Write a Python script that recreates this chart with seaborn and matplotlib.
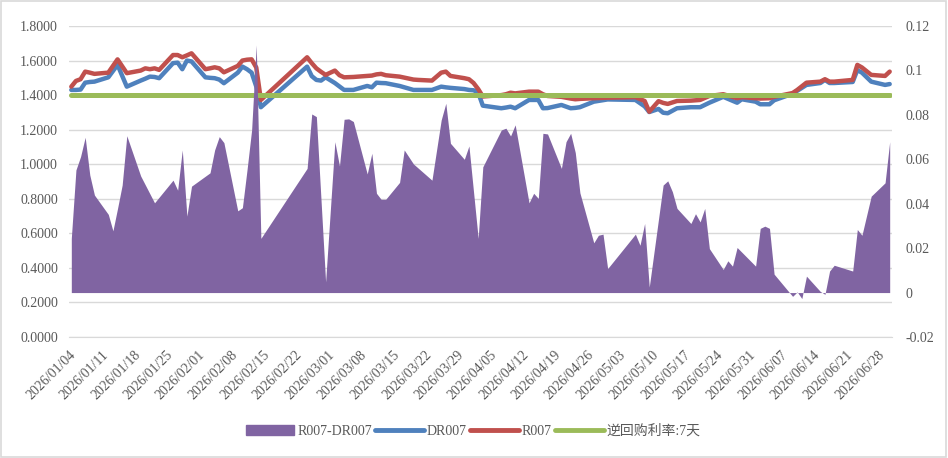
import seaborn as sns
import matplotlib.pyplot as plt
from matplotlib.patches import Patch, Rectangle
from matplotlib.lines import Line2D
import pandas as pd

# R007-DR007 (right axis)
spread_dates = ['01/04', '01/05', '01/06', '01/07', '01/08', '01/09', '01/12', '01/13', '01/14', '01/15',
                '01/16', '01/19', '01/22', '01/26', '01/27', '01/28', '01/29', '01/30', '02/03', '02/04',
                '02/05', '02/06', '02/09', '02/10', '02/11', '02/12', '02/13', '02/14', '02/24', '02/25',
                '02/26', '02/28', '03/02', '03/03', '03/04', '03/05', '03/06', '03/09', '03/10', '03/11',
                '03/12', '03/13', '03/16', '03/17', '03/19', '03/23', '03/25', '03/26', '03/27', '03/30',
                '03/31', '04/02', '04/03', '04/07', '04/08', '04/09', '04/10', '04/13', '04/14', '04/15',
                '04/16', '04/17', '04/20', '04/21', '04/22', '04/23', '04/24', '04/27', '04/28', '04/29',
                '04/30', '05/06', '05/07', '05/08', '05/09', '05/12', '05/13', '05/14', '05/15', '05/18',
                '05/19', '05/20', '05/21', '05/22', '05/25', '05/26', '05/27', '05/28', '06/01', '06/02',
                '06/03', '06/04', '06/05', '06/09', '06/10', '06/11', '06/12', '06/15', '06/16', '06/17',
                '06/18', '06/22', '06/23', '06/24', '06/26', '06/29', '06/30']
spread = [0.0244, 0.0552, 0.0612, 0.0699, 0.0529, 0.0439, 0.0352, 0.0278, 0.0379, 0.0484,
          0.0706, 0.0525, 0.0404, 0.0506, 0.0461, 0.0642, 0.0344, 0.0479, 0.0539, 0.0642,
          0.0702, 0.0675, 0.0368, 0.0382, 0.0552, 0.0732, 0.1115, 0.0244, 0.0559, 0.0804,
          0.0792, 0.0048, 0.0679, 0.0570, 0.0780, 0.0782, 0.0770, 0.0534, 0.0627, 0.0447,
          0.0420, 0.0420, 0.0496, 0.0642, 0.0579, 0.0506, 0.0777, 0.0852, 0.0672, 0.0600,
          0.0660, 0.0244, 0.0566, 0.0732, 0.0740, 0.0705, 0.0755, 0.0404, 0.0447, 0.0424,
          0.0717, 0.0714, 0.0559, 0.0679, 0.0717, 0.0630, 0.0449, 0.0224, 0.0258, 0.0263,
          0.0108, 0.0263, 0.0213, 0.0311, 0.0025, 0.0484, 0.0503, 0.0454, 0.0379, 0.0311,
          0.0355, 0.0318, 0.0379, 0.0198, 0.0104, 0.0143, 0.0119, 0.0203, 0.0119, 0.0289,
          0.0299, 0.0289, 0.0083, -0.0017, 0.0003, -0.0027, 0.0074, 0.0005, -0.0008, 0.0097,
          0.0123, 0.0097, 0.0284, 0.0258, 0.0434, 0.0494, 0.0679]

# R007 / DR007 (left axis)
rate_dates = ['01/04', '01/05', '01/06', '01/07', '01/08', '01/09', '01/12', '01/14', '01/16', '01/19',
              '01/20', '01/21', '01/22', '01/23', '01/26', '01/27', '01/28', '01/29', '01/30', '02/02',
              '02/03', '02/04', '02/05', '02/06', '02/09', '02/10', '02/11', '02/12', '02/13', '02/14',
              '02/24', '02/25', '02/26', '02/27', '02/28', '03/02', '03/03', '03/04', '03/06', '03/09',
              '03/10', '03/11', '03/12', '03/13', '03/16', '03/19', '03/20', '03/23', '03/25', '03/26',
              '03/27', '03/30', '03/31', '04/01', '04/02', '04/03', '04/07', '04/08', '04/09', '04/10',
              '04/13', '04/15', '04/16', '04/17', '04/20', '04/22', '04/23', '04/24', '04/27', '04/30',
              '05/06', '05/08', '05/09', '05/11', '05/12', '05/13', '05/15', '05/18', '05/20', '05/22',
              '05/25', '05/28', '05/29', '06/01', '06/02', '06/04', '06/05', '06/09', '06/10', '06/12',
              '06/15', '06/16', '06/17', '06/18', '06/22', '06/23', '06/24', '06/26', '06/29', '06/30']
r007 = [1.449, 1.482, 1.492, 1.536, 1.530, 1.523, 1.530, 1.607, 1.527, 1.542,
        1.555, 1.550, 1.555, 1.546, 1.632, 1.632, 1.619, 1.630, 1.642, 1.550,
        1.555, 1.561, 1.555, 1.532, 1.569, 1.600, 1.605, 1.607, 1.560, 1.372,
        1.619, 1.585, 1.555, 1.535, 1.517, 1.542, 1.515, 1.503, 1.505, 1.511,
        1.513, 1.520, 1.523, 1.515, 1.507, 1.490, 1.488, 1.484, 1.530, 1.536,
        1.511, 1.498, 1.492, 1.470, 1.435, 1.392, 1.400, 1.405, 1.414, 1.410,
        1.420, 1.420, 1.405, 1.395, 1.390, 1.380, 1.376, 1.378, 1.382, 1.385,
        1.388, 1.366, 1.304, 1.365, 1.355, 1.349, 1.366, 1.368, 1.372, 1.395,
        1.405, 1.382, 1.388, 1.382, 1.380, 1.382, 1.390, 1.412, 1.430, 1.472,
        1.478, 1.492, 1.478, 1.478, 1.488, 1.575, 1.560, 1.517, 1.511, 1.536]
dr007 = [1.430, 1.430, 1.432, 1.472, 1.476, 1.478, 1.503, 1.575, 1.449, 1.484,
         1.495, 1.507, 1.505, 1.498, 1.585, 1.588, 1.550, 1.600, 1.595, 1.503,
         1.500, 1.498, 1.490, 1.469, 1.530, 1.565, 1.550, 1.530, 1.450, 1.330,
         1.565, 1.510, 1.488, 1.484, 1.503, 1.470, 1.450, 1.430, 1.430, 1.453,
         1.445, 1.472, 1.470, 1.469, 1.453, 1.430, 1.430, 1.430, 1.449, 1.445,
         1.442, 1.435, 1.430, 1.428, 1.415, 1.339, 1.324, 1.328, 1.333, 1.324,
         1.372, 1.372, 1.324, 1.325, 1.343, 1.324, 1.326, 1.330, 1.362, 1.375,
         1.372, 1.335, 1.302, 1.320, 1.298, 1.295, 1.324, 1.330, 1.330, 1.356,
         1.390, 1.356, 1.376, 1.362, 1.347, 1.347, 1.370, 1.408, 1.425, 1.459,
         1.470, 1.488, 1.470, 1.470, 1.476, 1.545, 1.530, 1.478, 1.459, 1.464]

# 逆回购利率:7天
repo_dates = ['01/04', '06/30']
repo_rate = [1.40, 1.40]

tick_dates = pd.date_range('2026-01-04', '2026-06-28', freq='7D')

purple, blue, red, green = '#8064A2', '#4F81BD', '#C0504D', '#9BBB59'
txt = '#595959'
grid = '#D9D9D9'

sns.set_style('white')
plt.rcParams['font.family'] = ['Liberation Serif', 'Noto Sans CJK SC']
plt.rcParams['font.size'] = 10

to_dt = lambda s: pd.to_datetime(['2026/' + d for d in s])

fig = plt.figure(figsize=(9.48, 4.58), dpi=100)
ax = fig.add_axes([69 / 948, 1 - 337 / 458, (892 - 69) / 948, (337 - 26) / 458])
ax2 = ax.twinx()

# линии на левой оси, область спреда на правой (поверх линий, как в Excel)
sns.lineplot(x=to_dt(rate_dates), y=dr007, ax=ax, color=blue, lw=3.2, solid_capstyle='round')
sns.lineplot(x=to_dt(rate_dates), y=r007, ax=ax, color=red, lw=3.2, solid_capstyle='round')
sns.lineplot(x=to_dt(repo_dates), y=repo_rate, ax=ax, color=green, lw=3.6)
ax2.fill_between(to_dt(spread_dates), 0, spread, color=purple, lw=0)

ax.set_ylim(0, 1.8)
ax.set_yticks([i * 0.2 for i in range(10)])
ax.yaxis.set_major_formatter(plt.FuncFormatter(lambda v, p: f'{v:.4f}'))
ax2.set_ylim(-0.02, 0.12)
r_ticks = [-0.02, 0, 0.02, 0.04, 0.06, 0.08, 0.1, 0.12]
ax2.set_yticks(r_ticks)
ax2.set_yticklabels([f'{v:g}' for v in r_ticks])

ax.set_xlim(pd.Timestamp('2026-01-03 12:00'), pd.Timestamp('2026-06-30 12:00'))
ax.set_xticks(tick_dates - pd.Timedelta(hours=12))
ax.set_xticklabels([d.strftime('%Y/%m/%d') for d in tick_dates], rotation=45, ha='right',
                   rotation_mode='anchor')

ax.grid(axis='y', color=grid, lw=1)
ax.grid(axis='x', visible=False)
for s in ['top', 'left', 'right']:
    ax.spines[s].set_visible(False)
ax.spines['bottom'].set_color(grid)
for s in ax2.spines.values():
    s.set_visible(False)
ax.tick_params(axis='x', colors=txt, length=5, width=1, color=grid, pad=3, labelsize=10)
ax.tick_params(axis='y', colors=txt, length=0, pad=8, labelsize=10)
ax2.tick_params(axis='y', colors=txt, length=0, pad=10, labelsize=10)
ax.set_xlabel('')
ax.set_ylabel('')

handles = [Patch(color=purple), Line2D([], [], color=blue, lw=3.5, solid_capstyle='round'),
           Line2D([], [], color=red, lw=3.5, solid_capstyle='round'),
           Line2D([], [], color=green, lw=3.5, solid_capstyle='round')]
labels = ['R007-DR007', 'DR007', 'R007', '逆回购利率:7天']
leg = fig.legend(handles, labels, loc='center', bbox_to_anchor=(0.499, 0.059), ncol=4, frameon=False,
                 handlelength=3.5, handletextpad=0.2, columnspacing=0.25, fontsize=10)
for t in leg.get_texts():
    t.set_color(txt)

# рамка вокруг всей диаграммы
fig.patches.append(Rectangle((0.001, 0.002), 0.997, 0.995, transform=fig.transFigure,
                             fill=False, edgecolor=grid, lw=1.2))

plt.savefig('out.png', dpi=100)
